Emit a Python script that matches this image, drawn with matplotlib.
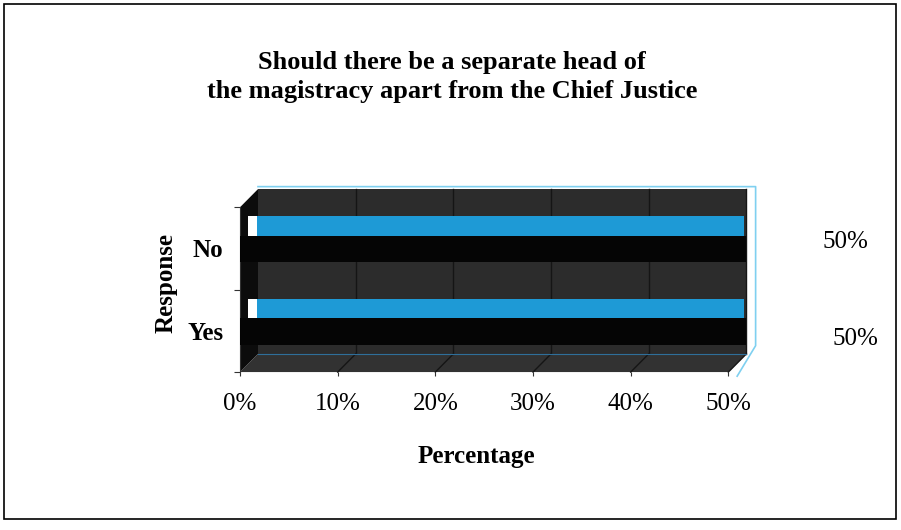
"""3D-style horizontal bar chart: separate head of the magistracy."""

import matplotlib

matplotlib.use("Agg")
import matplotlib.pyplot as plt
from matplotlib.patches import Polygon, Rectangle

categories = ["Yes", "No"]
values = [50, 50]
value_labels = ["50%", "50%"]
x_ticks = [0, 10, 20, 30, 40, 50]
x_tick_labels = ["0%", "10%", "20%", "30%", "40%", "50%"]

SERIF = ["Liberation Serif", "DejaVu Serif"]
plt.rcParams["font.family"] = SERIF

WALL = "#2c2c2c"
GRID = "#151515"
BLUE = "#1e9ad6"
EDGE = "#7fd0f0"

fig = plt.figure(figsize=(9.01, 5.30), dpi=100)
ax = fig.add_axes([0.2664, 0.298, 0.5420, 0.311])
ax.set_xlim(0, 50)
ax.set_ylim(0, 2)

# depth offset of the 3D box, in data units
dx, dy = 1.84, 0.22

# ── walls ─────────────────────────────────────────────────────────────
ax.add_patch(Rectangle((dx, dy), 50, 2, facecolor=WALL, edgecolor="none",
                       clip_on=False, zorder=1))
ax.add_patch(Polygon([(0, 0), (50, 0), (50 + dx, dy), (dx, dy)], closed=True,
                     facecolor="#323232", edgecolor="none", clip_on=False, zorder=1))
ax.add_patch(Polygon([(0, 0), (dx, dy), (dx, 2 + dy), (0, 2)], closed=True,
                     facecolor="#0c0c0c", edgecolor="none", clip_on=False, zorder=1))
for t in x_ticks[1:]:
    ax.plot([t + dx, t + dx], [dy, 2 + dy], color=GRID, lw=1.0, clip_on=False, zorder=2)
    ax.plot([t, t + dx], [0, dy], color=GRID, lw=1.0, clip_on=False, zorder=2)
ax.plot([dx, 50 + dx], [dy, dy], color="#2f6f9a", lw=0.8, clip_on=False, zorder=2)

# right side outline
ax.plot([dx, 50 + dx + 0.95, 50 + dx + 0.95, 50 + 0.9],
        [2 + dy + 0.03, 2 + dy + 0.03, dy + 0.1, -0.05],
        color=EDGE, lw=1.2, clip_on=False, zorder=5)

# ── bars ──────────────────────────────────────────────────────────────
centers = [i + 0.5 for i in range(len(categories))]
for c, v in zip(centers, values):
    ax.add_patch(Rectangle((0, c - 0.17), v + dx, 0.32, facecolor="#050505",
                           edgecolor="none", clip_on=False, zorder=3))
    ax.add_patch(Rectangle((0.82, c + 0.15), 0.92, 0.24, facecolor="white",
                           edgecolor="none", clip_on=False, zorder=4))
    ax.add_patch(Rectangle((1.74, c + 0.15), v - 0.14, 0.24, facecolor=BLUE,
                           edgecolor="none", clip_on=False, zorder=4))

# value labels sit outside the box, to the right (Yes, No)
for c, lab, off, yoff in zip(centers, value_labels, [13.0, 12.0], [-0.1, 0.08]):
    ax.text(50 + off, c + yoff, lab, fontsize=18,
            ha="center", va="center", clip_on=False)

# ── axes ──────────────────────────────────────────────────────────────
for s in ["top", "right", "bottom"]:
    ax.spines[s].set_visible(False)
ax.spines["left"].set_color("#333333")
ax.set_facecolor("none")

ax.set_xticks(x_ticks)
ax.set_xticklabels(x_tick_labels, fontsize=18)
ax.tick_params(axis="x", length=3, pad=12, color="#333333")

ax.set_yticks([0, 1, 2])
ax.set_yticklabels([])
ax.set_yticks(centers, minor=True)
ax.set_yticklabels(categories, minor=True, fontsize=18, fontweight="bold")
ax.tick_params(axis="y", which="major", length=4, color="#333333")
ax.tick_params(axis="y", which="minor", length=0, pad=12)

ax.set_xlabel("Percentage", fontsize=18, fontweight="bold", labelpad=22)
ax.xaxis.label.set_x(0.484)
ax.set_ylabel("Response", fontsize=18, fontweight="bold", labelpad=7)
ax.yaxis.label.set_y(0.54)

fig.text(0.502, 0.855, "Should there be a separate head of\nthe magistracy apart from the Chief Justice",
         ha="center", va="center", fontsize=19, fontweight="bold", linespacing=1.35)

fig.patches.append(Rectangle((0.004, 0.02), 0.991, 0.973, transform=fig.transFigure,
                             fill=False, edgecolor="black", lw=1.2))

fig.savefig("out.png", dpi=100)
